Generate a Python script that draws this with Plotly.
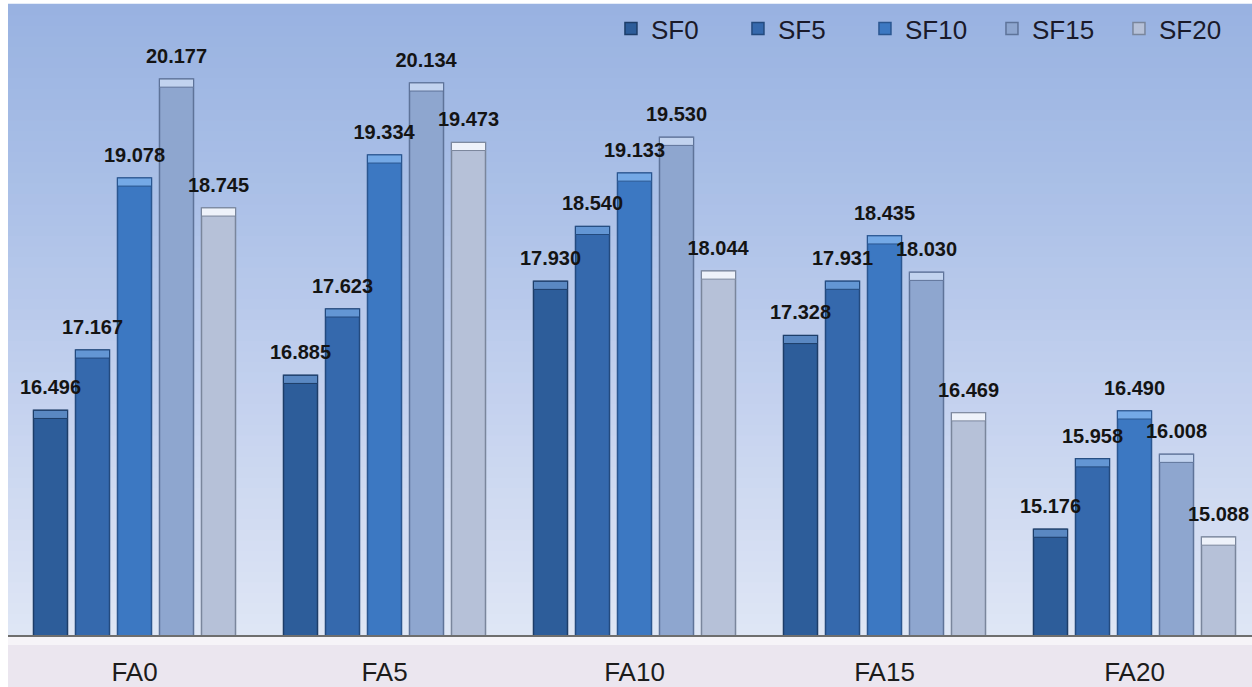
import plotly.graph_objects as go

categories = ["FA0", "FA5", "FA10", "FA15", "FA20"]
series_names = ["SF0", "SF5", "SF10", "SF15", "SF20"]
sf0 = [16.496, 16.885, 17.930, 17.328, 15.176]
sf5 = [17.167, 17.623, 18.540, 17.931, 15.958]
sf10 = [19.078, 19.334, 19.133, 18.435, 16.490]
sf15 = [20.177, 20.134, 19.530, 18.030, 16.008]
sf20 = [18.745, 19.473, 18.044, 16.469, 15.088]
series_values = [sf0, sf5, sf10, sf15, sf20]

fills = ["#2d5d9a", "#3569ad", "#3c78c2", "#8ea6cf", "#b6c1d8"]
edges = ["#1d3d68", "#234a7e", "#2a5690", "#5e7399", "#7a869c"]
caps = ["#5a88c2", "#6396d4", "#74a9e6", "#c2d3ef", "#eef2fa"]

CAP_H = 0.09      # bevel highlight height (data units)
LABEL_GAP = 0.10  # extra gap between bar top and its label

fig = go.Figure()
# bars and their bevel caps
for i, (name, vals) in enumerate(zip(series_names, series_values)):
    og = name
    fig.add_trace(go.Bar(
        x=categories, y=vals, name=name, offsetgroup=og,
        marker=dict(color=fills[i], line=dict(color=edges[i], width=1.5)),
        hoverinfo="x+y+name",
    ))
    fig.add_trace(go.Bar(
        x=categories, y=[CAP_H] * len(vals), base=[v - CAP_H for v in vals],
        offsetgroup=og, showlegend=False, hoverinfo="skip",
        marker=dict(color=caps[i], line=dict(color=edges[i], width=1)),
    ))
# value labels, drawn last so they stay on top of neighbouring bars
for i, (name, vals) in enumerate(zip(series_names, series_values)):
    fig.add_trace(go.Bar(
        x=categories, y=[LABEL_GAP] * len(vals), base=vals,
        offsetgroup=name, showlegend=False, hoverinfo="skip",
        marker=dict(color="rgba(0,0,0,0)", line=dict(width=0)),
        text=[f"{v:.3f}" for v in vals], textposition="outside",
        constraintext="none", cliponaxis=False, textangle=0,
        outsidetextfont=dict(family="Liberation Sans, Arial, sans-serif",
                             size=20, color="#141414", weight="bold"),
    ))

# background gradient for the plot area
stops = [(0.0, (0xdf, 0xe6, 0xf5)), (0.4, (0xc2, 0xd0, 0xee)),
         (0.7, (0xab, 0xc0, 0xe7)), (1.0, (0x98, 0xb2, 0xe1))]


def interp(t):
    for (t0, c0), (t1, c1) in zip(stops[:-1], stops[1:]):
        if t0 <= t <= t1:
            f = (t - t0) / (t1 - t0)
            return "rgb(%d,%d,%d)" % tuple(round(a + (b - a) * f) for a, b in zip(c0, c1))
    return "rgb(%d,%d,%d)" % stops[-1][1]


shapes = []
N = 60
for k in range(N):
    y0 = k / N
    y1 = (k + 1) / N
    shapes.append(dict(type="rect", xref="paper", yref="paper", x0=0, x1=1,
                       y0=y0, y1=y1 + 0.002, fillcolor=interp((y0 + y1) / 2),
                       line=dict(width=0), layer="below"))
# bottom category band
PLOT_H = 630
shapes.append(dict(type="rect", xref="paper", yref="paper", x0=0, x1=1,
                   y0=-60 / PLOT_H, y1=0, fillcolor="#ebe6ef",
                   line=dict(width=0), layer="below"))
shapes.append(dict(type="rect", xref="paper", yref="paper", x0=0, x1=1,
                   y0=-10 / PLOT_H, y1=0, fillcolor="#f6f4f8",
                   line=dict(width=0), layer="below"))

fig.update_layout(
    width=1252, height=687,
    margin=dict(l=8, r=0, t=5, b=52, autoexpand=False),
    paper_bgcolor="white", plot_bgcolor="#c6d3ee",
    barmode="group", bargap=0.16, bargroupgap=0.19,
    shapes=shapes,
    font=dict(family="Liberation Sans, Arial, sans-serif", color="#1a1a1a"),
    showlegend=True,
    legend=dict(orientation="h", x=0.4847, xanchor="left", y=1.0, yanchor="top",
                bgcolor="rgba(0,0,0,0)", font=dict(size=26, color="#1a1a2a"),
                entrywidth=82, traceorder="normal"),
    xaxis=dict(type="category", range=[-0.506, 4.47], showgrid=False,
               showline=True, linecolor="#6e6e6e", linewidth=1.5,
               ticks="", tickfont=dict(size=26, color="#1c1c1c"),
               ticklabelstandoff=13, zeroline=False),
    yaxis=dict(range=[14, 21], showgrid=False, showticklabels=False,
               zeroline=False, showline=False, ticks=""),
)

fig.write_html("out.html")
